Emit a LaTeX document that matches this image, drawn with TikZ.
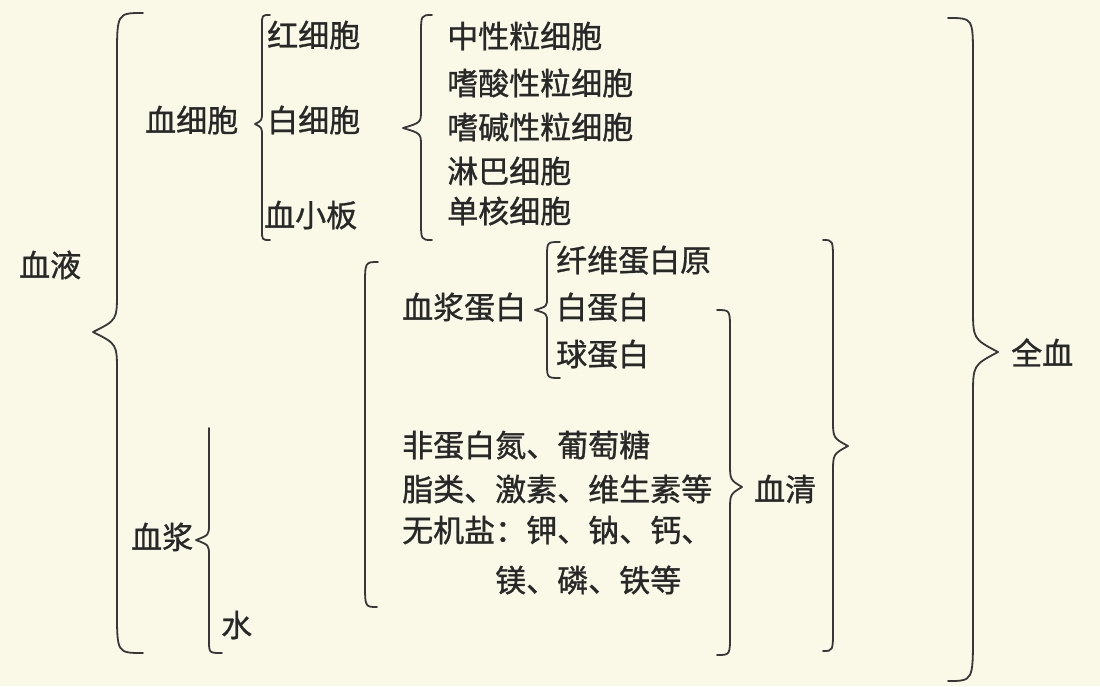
\documentclass[tikz,border=0pt]{standalone}
\usepackage{fontspec}
\setmainfont[FakeBold=1]{Noto Sans CJK SC}
\definecolor{bgc}{RGB}{250,249,231}
\definecolor{inkc}{RGB}{40,40,40}
\definecolor{linec}{RGB}{55,55,58}
\newcommand{\bracepath}[9]{%
  \draw[bracestyle] (#1,#4) .. controls (#2,#4) .. (#2,#4+#7)
    -- (#2,#5-#8) .. controls (#2,#5-0.3*#8) .. (#3,#5)
    .. controls (#2,#5+0.3*#8) .. (#2,#5+#8)
    -- (#2,#6-#9) .. controls (#2,#6) .. (#1,#6);}
\begin{document}
\begin{tikzpicture}[x=1pt,y=-1pt,
  lbl/.style={anchor=west,inner sep=0pt,text=inkc,font=\fontsize{31pt}{32pt}\selectfont,
    text height=0.84em,text depth=0.08em,yshift=-5pt},
  bracestyle/.style={draw=linec,line width=1.8pt,line cap=round,line join=round}]
\fill[bgc] (0,0) rectangle (1100,686);
\useasboundingbox (0,0) rectangle (1100,686);
% labels
\node[lbl] (xueye) at (19,268) {血液};
\node[lbl] (xxb) at (145,123) {血细胞};
\node[lbl] (hxb) at (267,38) {红细胞};
\node[lbl] (bxb) at (267,123) {白细胞};
\node[lbl] (xxban) at (264,218) {血小板};
\node[lbl] (zx) at (447,39) {中性粒细胞};
\node[lbl] (sx) at (447,86) {嗜酸性粒细胞};
\node[lbl] (jx) at (447,130) {嗜碱性粒细胞};
\node[lbl] (lb) at (447,174) {淋巴细胞};
\node[lbl] (dh) at (447,214) {单核细胞};
\node[lbl] (xwdb) at (556,263) {纤维蛋白原};
\node[lbl] (xjdb) at (402,310) {血浆蛋白};
\node[lbl] (bdb) at (556,310) {白蛋白};
\node[lbl] (qdb) at (556,357) {球蛋白};
\node[lbl] (ln1) at (402,448) {非蛋白氮、葡萄糖};
\node[lbl] (ln2) at (402,492) {脂类、激素、维生素等};
\node[lbl] (ln3) at (402,533) {无机盐：钾、钠、钙、};
\node[lbl] (ln4) at (495,583) {镁、磷、铁等};
\node[lbl] (xq) at (754,492) {血清};
\node[lbl] (qx) at (1011,356) {全血};
\node[lbl] (xj) at (131,540) {血浆};
\node[lbl] (shui) at (221,628) {水};
% braces
\bracepath{143}{117}{93}{13}{332}{653}{45}{40}{43}
\bracepath{270}{262}{255}{15}{124}{240}{10}{12}{10}
\bracepath{432}{421}{403}{15}{128}{240}{20}{18}{20}
\bracepath{560}{547}{535}{242}{310}{378}{15}{12}{15}
\bracepath{717}{730}{742}{310}{487}{655}{20}{24}{20}
\bracepath{823}{833}{848}{240}{446}{651}{22}{27}{22}
\bracepath{948}{973}{998}{18}{352}{681}{40}{44}{48}
% bracket of plasma components
\draw[bracestyle] (378,262) .. controls (365,262) .. (365,287) -- (365,582) .. controls (365,607) .. (377,607);
% brace of plasma
\draw[bracestyle] (209,428) -- (209,524) .. controls (209,535) .. (196,540)
  .. controls (209,545) .. (209,556) -- (209,640) .. controls (209,653) .. (222,653);
\end{tikzpicture}
\end{document}
